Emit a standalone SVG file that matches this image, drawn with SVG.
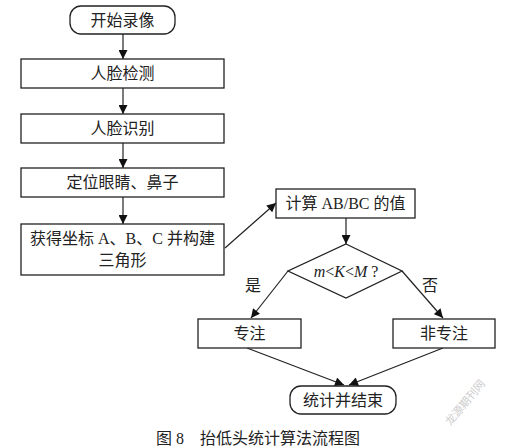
<svg xmlns="http://www.w3.org/2000/svg" width="505" height="448" viewBox="0 0 505 448">
<defs>
<style>
.box{fill:#fff;stroke:#222;stroke-width:1.3}
.t{font-family:"Liberation Serif","Noto Sans CJK SC",serif;font-size:16px;fill:#222;text-anchor:middle;dominant-baseline:central}
.c{stroke:#222;stroke-width:1.2;fill:none;marker-end:url(#ah)}
</style>
<marker id="ah" viewBox="0 0 10 10" refX="10" refY="5" markerWidth="10" markerHeight="9" markerUnits="userSpaceOnUse" orient="auto">
<path d="M0,0 L10,5 L0,10 z" fill="#111"/>
</marker>
</defs>
<rect width="505" height="448" fill="#fff"/>
<g id="connectors">
<line class="c" x1="123" y1="34" x2="123" y2="59"/>
<line class="c" x1="123" y1="88" x2="123" y2="114"/>
<line class="c" x1="123" y1="143" x2="123" y2="168"/>
<line class="c" x1="123" y1="197" x2="123" y2="224"/>
<line class="c" x1="225" y1="248" x2="276" y2="203"/>
<line class="c" x1="346" y1="218" x2="346" y2="244"/>
<line class="c" x1="288" y1="271" x2="251" y2="318"/>
<line class="c" x1="402" y1="271" x2="443" y2="318"/>
<line class="c" x1="247" y1="348" x2="344" y2="385"/>
<line class="c" x1="443" y1="348" x2="349" y2="385"/>
</g>
<g id="start"><rect class="box" x="70" y="6" width="105" height="28" rx="11"/><text class="t" x="122.5" y="20">开始录像</text></g>
<g id="detect"><rect class="box" x="21" y="59" width="203" height="29"/><text class="t" x="122.5" y="73.5">人脸检测</text></g>
<g id="recog"><rect class="box" x="21" y="114" width="203" height="29"/><text class="t" x="122.5" y="128.5">人脸识别</text></g>
<g id="locate"><rect class="box" x="21" y="168" width="203" height="29"/><text class="t" x="122.5" y="182.5">定位眼睛、鼻子</text></g>
<g id="coords"><rect class="box" x="21" y="224" width="203" height="51"/><text class="t" x="122.5" y="238">获得坐标 A、B、C 并构建</text><text class="t" x="122.5" y="260">三角形</text></g>
<g id="calc"><rect class="box" x="276" y="189" width="139" height="29"/><text class="t" x="345.5" y="203.5">计算 AB/BC 的值</text></g>
<g id="decision"><polygon class="box" points="346,244 402,271 346,298 288,271"/><text class="t" x="346" y="271"><tspan font-style="italic">m</tspan>&lt;<tspan font-style="italic">K</tspan>&lt;<tspan font-style="italic">M</tspan> ?</text></g>
<text class="t" x="253" y="285">是</text>
<text class="t" x="430" y="285">否</text>
<g id="focus"><rect class="box" x="198" y="319" width="103" height="29"/><text class="t" x="249.5" y="333.5">专注</text></g>
<g id="nofocus"><rect class="box" x="393" y="319" width="102" height="29"/><text class="t" x="444" y="333.5">非专注</text></g>
<g id="end"><rect class="box" x="290" y="386" width="106" height="28" rx="11"/><text class="t" x="343" y="400">统计并结束</text></g>
<text class="t" x="258" y="438" font-size="17" xml:space="preserve">图 8    抬低头统计算法流程图</text>
<text x="468" y="405" font-family="Noto Sans CJK SC,sans-serif" font-size="11" fill="#ccc" text-anchor="middle" transform="rotate(-50 468 405)">龙源期刊网</text>
</svg>
